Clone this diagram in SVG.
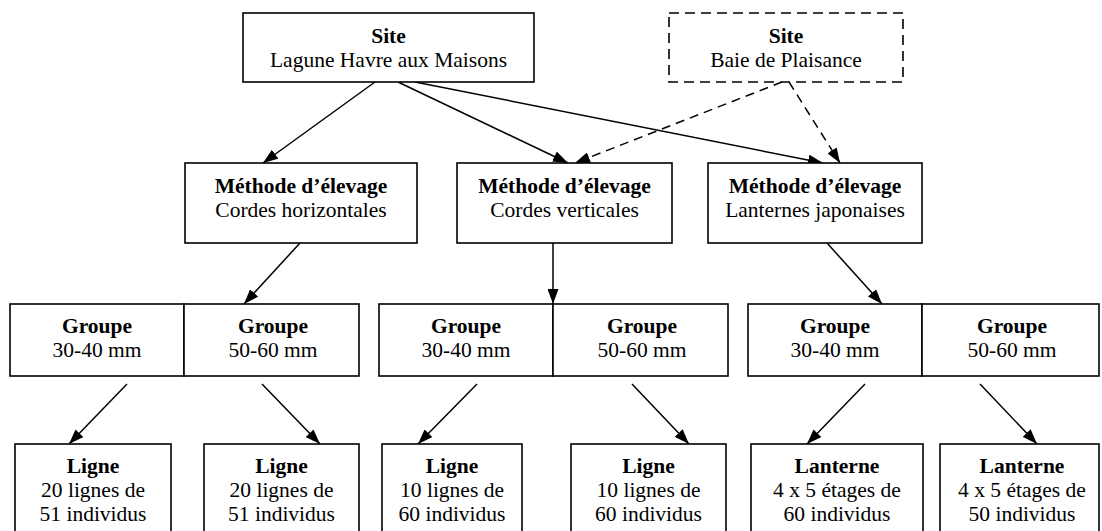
<svg xmlns="http://www.w3.org/2000/svg" width="1102" height="531" viewBox="0 0 1102 531">
<defs>
<style>
.box{fill:#fff;stroke:#000;stroke-width:1.6}
.dbox{fill:#fff;stroke:#000;stroke-width:1.6;stroke-dasharray:10 6}
.t{font-family:"Liberation Serif","Times New Roman",serif;font-size:21.5px;fill:#000;text-anchor:middle}
.b{font-weight:bold}
.c{fill:none;stroke:#000;stroke-width:1.5}
.d{fill:none;stroke:#000;stroke-width:1.5;stroke-dasharray:9 6}
</style>
<marker id="ah" markerUnits="userSpaceOnUse" markerWidth="15" markerHeight="11" refX="15" refY="5.5" orient="auto">
<path d="M0,0 L15,5.5 L0,11 z" fill="#000"/>
</marker>
</defs>
<rect width="1102" height="531" fill="#fff"/>

<g id="connectors">
<line class="c" x1="375" y1="82" x2="263" y2="163" marker-end="url(#ah)"/>
<line class="c" x1="398" y1="82" x2="568" y2="163" marker-end="url(#ah)"/>
<line class="c" x1="415" y1="82" x2="823" y2="163" marker-end="url(#ah)"/>
<line class="d" x1="782" y1="82" x2="575" y2="163" marker-end="url(#ah)"/>
<line class="d" x1="789" y1="82" x2="840" y2="163" marker-end="url(#ah)"/>
<line class="c" x1="300" y1="243" x2="244" y2="304" marker-end="url(#ah)"/>
<line class="c" x1="553" y1="243" x2="553" y2="304" marker-end="url(#ah)"/>
<line class="c" x1="827" y1="243" x2="882" y2="304" marker-end="url(#ah)"/>
<line class="c" x1="127" y1="384" x2="69" y2="444" marker-end="url(#ah)"/>
<line class="c" x1="262" y1="384" x2="320" y2="444" marker-end="url(#ah)"/>
<line class="c" x1="477" y1="384" x2="418" y2="444" marker-end="url(#ah)"/>
<line class="c" x1="632" y1="384" x2="689" y2="444" marker-end="url(#ah)"/>
<line class="c" x1="865" y1="384" x2="807" y2="444" marker-end="url(#ah)"/>
<line class="c" x1="980" y1="384" x2="1037" y2="444" marker-end="url(#ah)"/>
</g>

<g id="site1">
<rect class="box" x="243" y="13" width="291" height="69"/>
<text class="t b" x="388.5" y="43">Site</text>
<text class="t" x="388.5" y="67">Lagune Havre aux Maisons</text>
</g>
<g id="site2">
<rect class="dbox" x="669" y="13" width="234" height="69"/>
<text class="t b" x="786" y="43">Site</text>
<text class="t" x="786" y="67">Baie de Plaisance</text>
</g>

<g id="methode1">
<rect class="box" x="185" y="163" width="232" height="80"/>
<text class="t b" x="301" y="193">Méthode d’élevage</text>
<text class="t" x="301" y="217">Cordes horizontales</text>
</g>
<g id="methode2">
<rect class="box" x="457" y="163" width="215" height="80"/>
<text class="t b" x="564.5" y="193">Méthode d’élevage</text>
<text class="t" x="564.5" y="217">Cordes verticales</text>
</g>
<g id="methode3">
<rect class="box" x="708" y="163" width="214" height="80"/>
<text class="t b" x="815" y="193">Méthode d’élevage</text>
<text class="t" x="815" y="217">Lanternes japonaises</text>
</g>

<g id="groupe-a1">
<rect class="box" x="10" y="304" width="174" height="72"/>
<text class="t b" x="97" y="333">Groupe</text>
<text class="t" x="97" y="357">30-40 mm</text>
</g>
<g id="groupe-a2">
<rect class="box" x="184" y="304" width="175" height="72"/>
<text class="t b" x="273" y="333">Groupe</text>
<text class="t" x="273" y="357">50-60 mm</text>
</g>
<g id="groupe-b1">
<rect class="box" x="379" y="304" width="174" height="72"/>
<text class="t b" x="466" y="333">Groupe</text>
<text class="t" x="466" y="357">30-40 mm</text>
</g>
<g id="groupe-b2">
<rect class="box" x="553" y="304" width="175" height="72"/>
<text class="t b" x="642" y="333">Groupe</text>
<text class="t" x="642" y="357">50-60 mm</text>
</g>
<g id="groupe-c1">
<rect class="box" x="748" y="304" width="174" height="72"/>
<text class="t b" x="835" y="333">Groupe</text>
<text class="t" x="835" y="357">30-40 mm</text>
</g>
<g id="groupe-c2">
<rect class="box" x="922" y="304" width="177" height="72"/>
<text class="t b" x="1012" y="333">Groupe</text>
<text class="t" x="1012" y="357">50-60 mm</text>
</g>

<g id="ligne1">
<rect class="box" x="15" y="444" width="156" height="100"/>
<text class="t b" x="93" y="473">Ligne</text>
<text class="t" x="93" y="497">20 lignes de</text>
<text class="t" x="93" y="521">51 individus</text>
</g>
<g id="ligne2">
<rect class="box" x="204" y="444" width="155" height="100"/>
<text class="t b" x="281.5" y="473">Ligne</text>
<text class="t" x="281.5" y="497">20 lignes de</text>
<text class="t" x="281.5" y="521">51 individus</text>
</g>
<g id="ligne3">
<rect class="box" x="382" y="444" width="140" height="100"/>
<text class="t b" x="452" y="473">Ligne</text>
<text class="t" x="452" y="497">10 lignes de</text>
<text class="t" x="452" y="521">60 individus</text>
</g>
<g id="ligne4">
<rect class="box" x="571" y="444" width="155" height="100"/>
<text class="t b" x="648.5" y="473">Ligne</text>
<text class="t" x="648.5" y="497">10 lignes de</text>
<text class="t" x="648.5" y="521">60 individus</text>
</g>
<g id="lanterne1">
<rect class="box" x="751" y="444" width="172" height="100"/>
<text class="t b" x="837" y="473">Lanterne</text>
<text class="t" x="837" y="497">4 x 5 étages de</text>
<text class="t" x="837" y="521">60 individus</text>
</g>
<g id="lanterne2">
<rect class="box" x="940" y="444" width="159" height="100"/>
<text class="t b" x="1022" y="473">Lanterne</text>
<text class="t" x="1022" y="497">4 x 5 étages de</text>
<text class="t" x="1022" y="521">50 individus</text>
</g>
</svg>
